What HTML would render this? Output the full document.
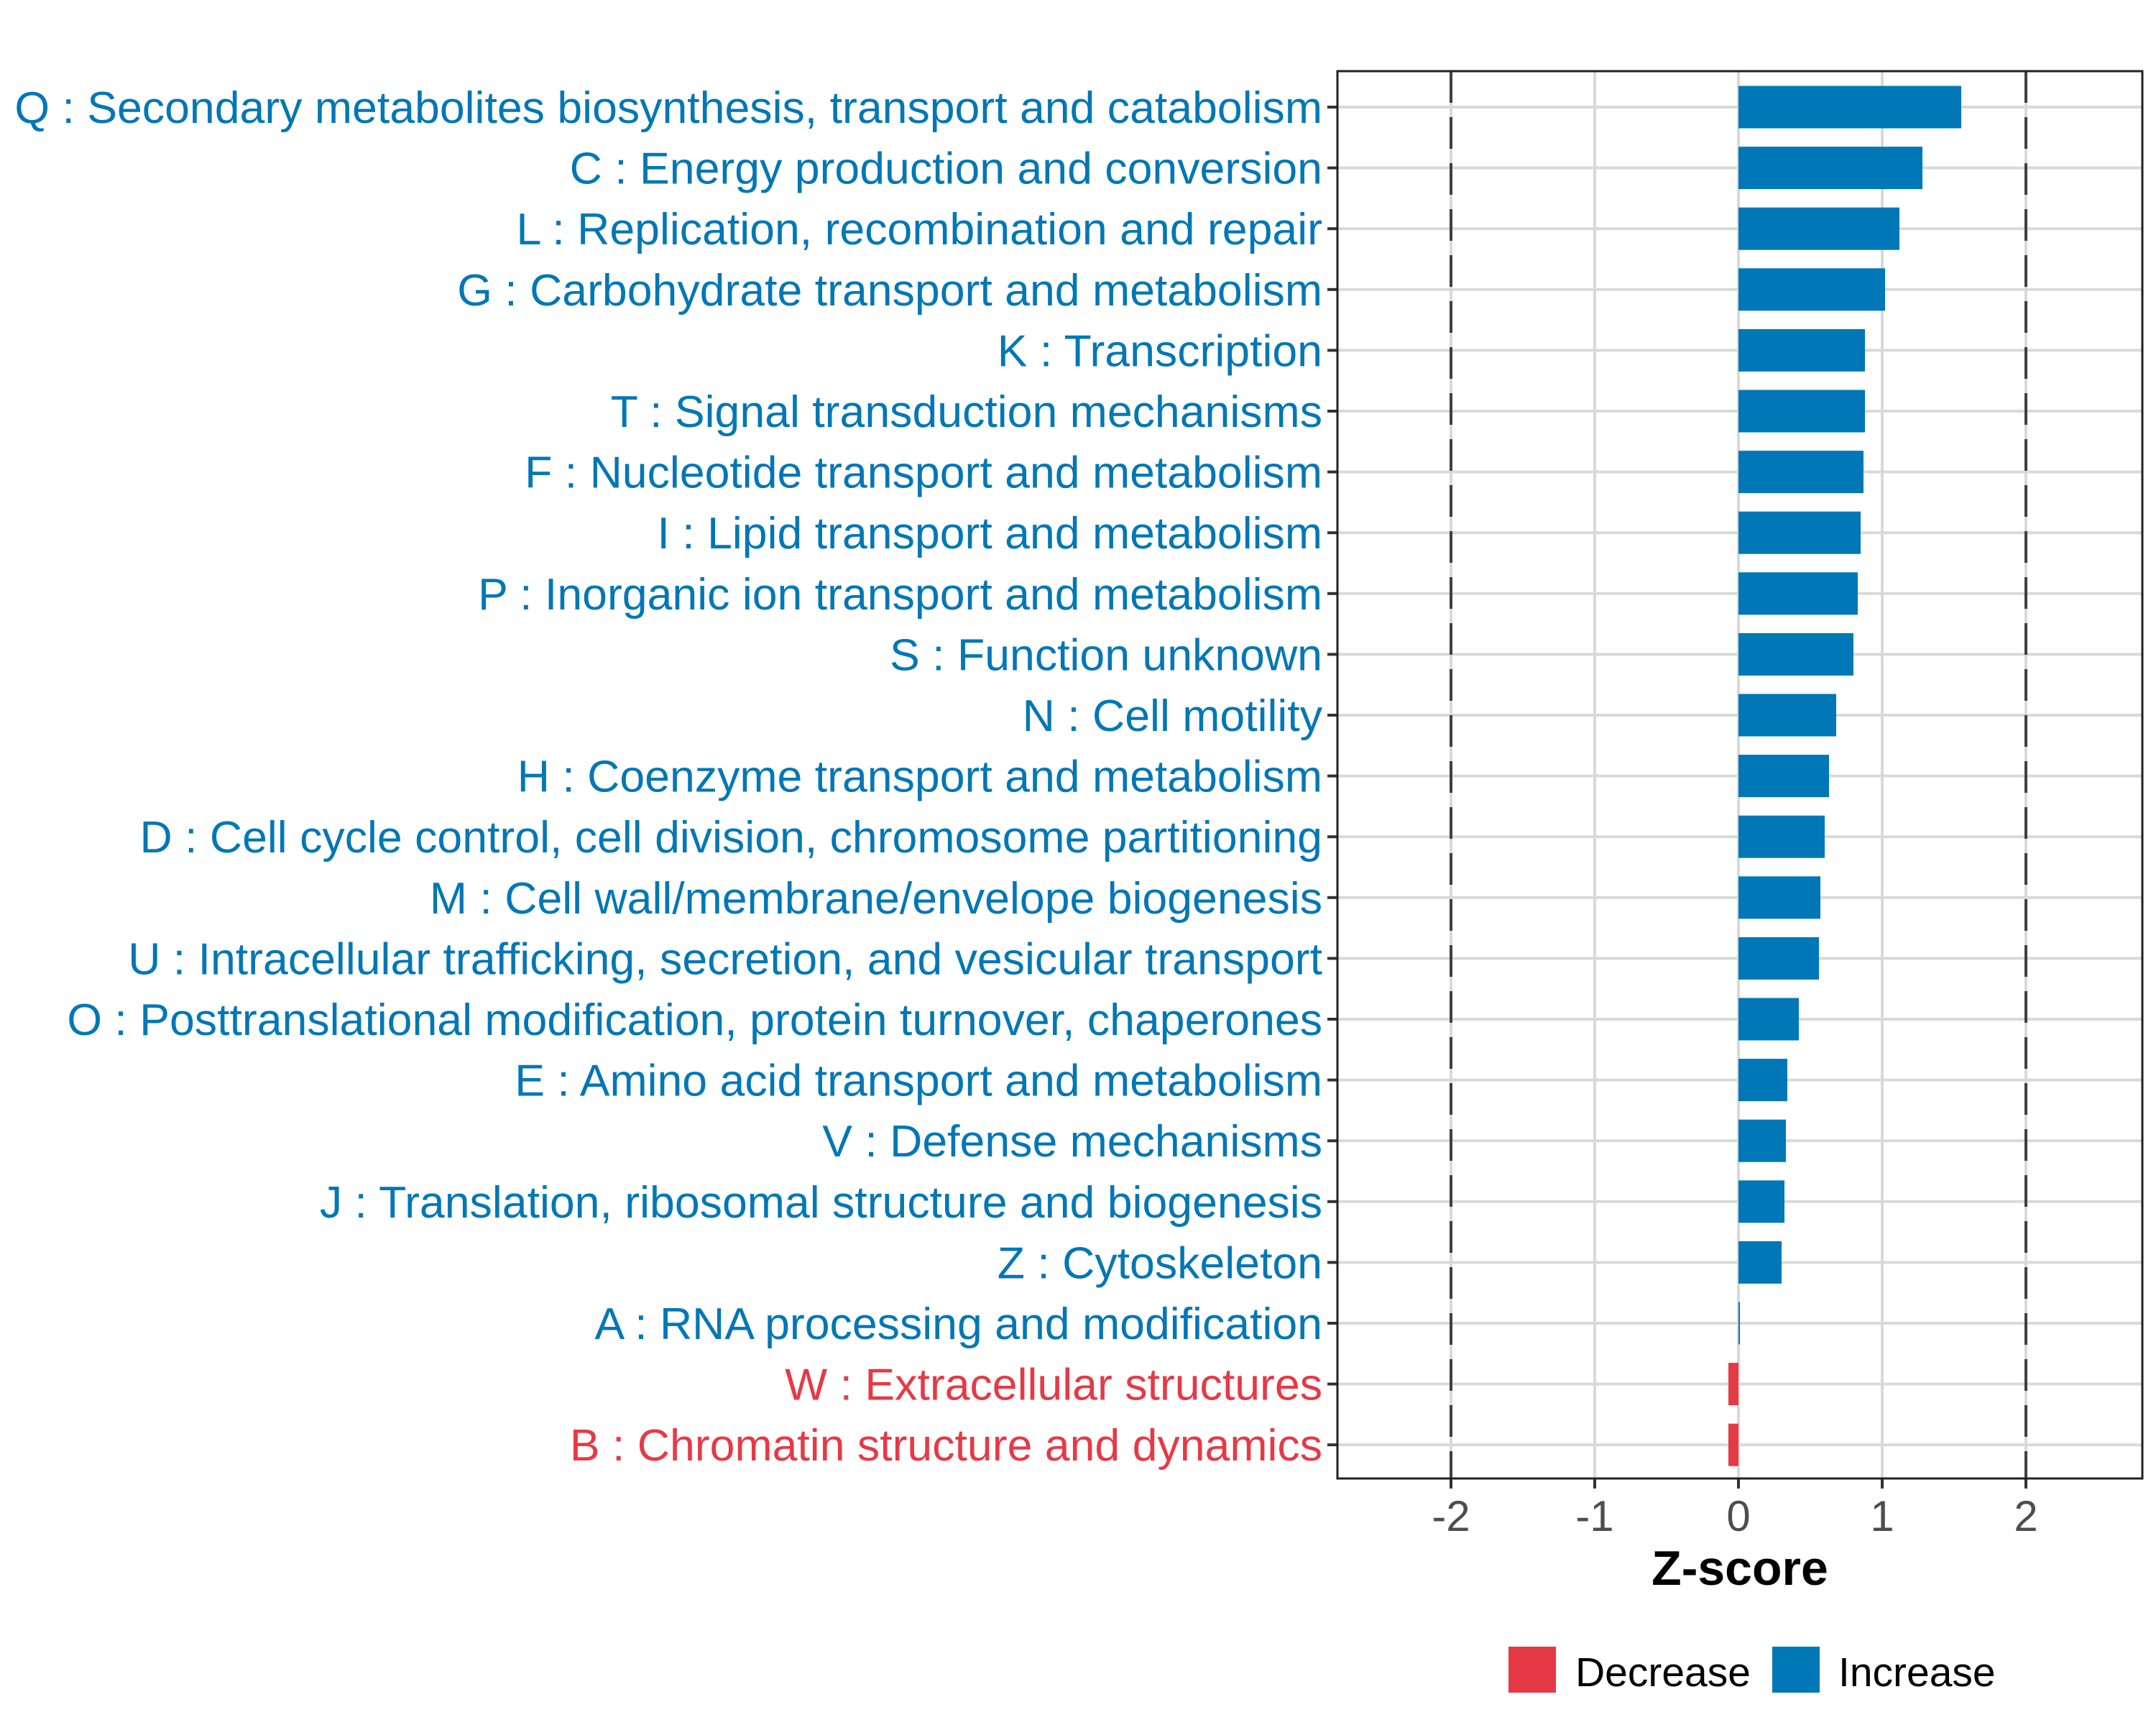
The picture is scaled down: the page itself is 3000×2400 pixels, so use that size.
<!DOCTYPE html>
<html><head><meta charset="utf-8"><style>html,body{margin:0;padding:0;background:#fff}svg{display:block}</style></head>
<body>
<svg id="chart" width="3000" height="2400" xmlns="http://www.w3.org/2000/svg" font-family="Liberation Sans, sans-serif">
<rect width="3000" height="2400" fill="#fff"/>
<g id="grid"></g><g id="bars"></g><g id="labels"></g><g id="axis"></g>
<rect x="1861" y="99" width="1120" height="1958" fill="none" stroke="#222" stroke-width="3"/>
<text x="2421" y="2205" text-anchor="middle" font-size="68" font-weight="bold" fill="#000">Z-score</text>
<rect x="2099" y="2291" width="66" height="64" fill="#e63946"/>
<text x="2192" y="2346" font-size="57" fill="#000">Decrease</text>
<rect x="2466" y="2291" width="66" height="64" fill="#0077b6"/>
<text x="2558" y="2346" font-size="57" fill="#000">Increase</text>
</svg>
<script>
const categories = ["Q : Secondary metabolites biosynthesis, transport and catabolism","C : Energy production and conversion","L : Replication, recombination and repair","G : Carbohydrate transport and metabolism","K : Transcription","T : Signal transduction mechanisms","F : Nucleotide transport and metabolism","I : Lipid transport and metabolism","P : Inorganic ion transport and metabolism","S : Function unknown","N : Cell motility","H : Coenzyme transport and metabolism","D : Cell cycle control, cell division, chromosome partitioning","M : Cell wall/membrane/envelope biogenesis","U : Intracellular trafficking, secretion, and vesicular transport","O : Posttranslational modification, protein turnover, chaperones","E : Amino acid transport and metabolism","V : Defense mechanisms","J : Translation, ribosomal structure and biogenesis","Z : Cytoskeleton","A : RNA processing and modification","W : Extracellular structures","B : Chromatin structure and dynamics"];
const zscores = [1.55,1.28,1.12,1.02,0.88,0.88,0.87,0.85,0.83,0.80,0.68,0.63,0.60,0.57,0.56,0.42,0.34,0.33,0.32,0.30,0.01,-0.07,-0.07];
const xTicks = [-2,-1,0,1,2];
const xTickLabels = ["-2","-1","0","1","2"];
const thresholds = [-2,2];

const NS="http://www.w3.org/2000/svg";
const X0=2419, UNIT=200, Y0=149, STEP=84.6, BARH=59, PL=1861, PR=2981, PT=99, PB=2057;
const xScale=v=>X0+v*UNIT;
const yScale=i=>Y0+i*STEP;
const blue="#0077b6", red="#e63946";
function mk(tag,attrs,parent){const e=document.createElementNS(NS,tag);for(const k in attrs)e.setAttribute(k,attrs[k]);parent.appendChild(e);return e;}
const grid=document.getElementById('grid'),bars=document.getElementById('bars'),labels=document.getElementById('labels'),axis=document.getElementById('axis');
xTicks.forEach((t,i)=>{
  const x=xScale(t);
  const g=mk('line',{x1:x,x2:x,y1:PT,y2:PB,stroke:'#d9d9d9','stroke-width':4},grid);
  
  
  const tk=mk('line',{x1:x,x2:x,y1:PB,y2:PB+14,stroke:'#333','stroke-width':4},axis);
  
  
  const tl=mk('text',{x:x,y:2130,'text-anchor':'middle','font-size':60,fill:'#4d4d4d'},axis);
  tl.textContent=xTickLabels[i];
  
  
});
categories.forEach((c,i)=>{
  const y=yScale(i);
  const g=mk('line',{x1:PL,x2:PR,y1:y,y2:y,stroke:'#d9d9d9','stroke-width':4},grid);
  
  
});
thresholds.forEach(t=>{
  const x=xScale(t);
  const l=mk('line',{x1:x,x2:x,y1:PT,y2:PB,stroke:'#404040','stroke-width':4,'stroke-dasharray':'44 20'},grid);
  
  
});
categories.forEach((c,i)=>{
  const y=yScale(i), v=zscores[i], col=v<0?red:blue;
  const x1=Math.min(xScale(0),xScale(v)), w=Math.max(Math.abs(xScale(v)-xScale(0)),2);
  const b=mk('rect',{x:x1,y:y-BARH/2,width:w,height:BARH,fill:col},bars);
  
  
  const tk=mk('line',{x1:PL-14,x2:PL,y1:y,y2:y,stroke:'#333','stroke-width':4},axis);
  
  
  const t=mk('text',{x:1840,y:y+22,'text-anchor':'end','font-size':62.6,fill:col},labels);
  t.textContent=c;
  
  
});
</script>
</body></html>
